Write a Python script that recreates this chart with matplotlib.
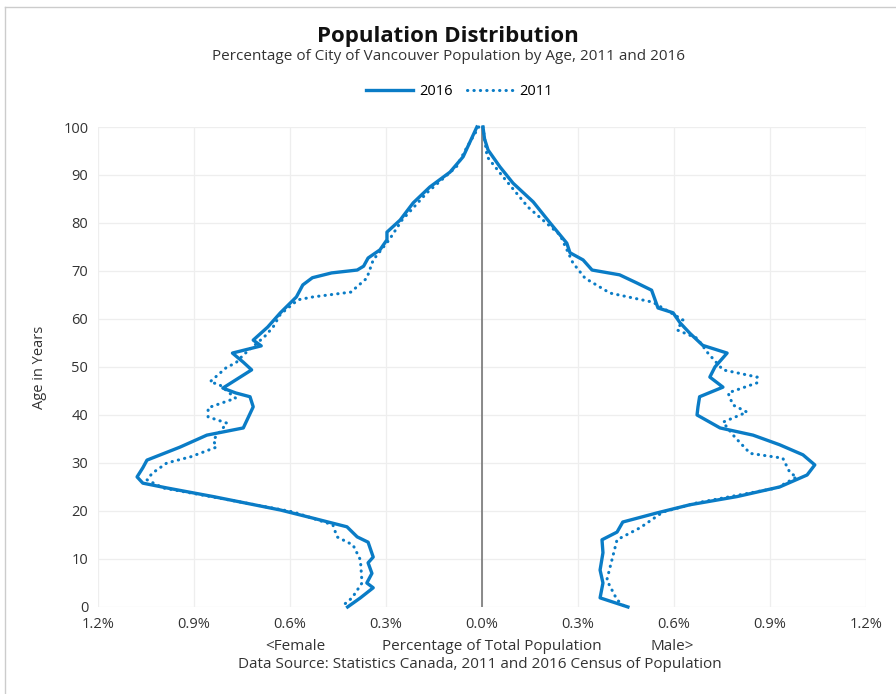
import matplotlib.pyplot as plt
import numpy as np
from matplotlib.lines import Line2D

plt.rcParams['font.family'] = ['Open Sans', 'DejaVu Sans']

BLUE = '#0a7cc6'
TXT = '#333333'

# female 2016 (percent), ages descending
female_2016_age = [100, 93.8, 90.6, 87.5, 84.2, 80.6, 78.1, 76.5, 74.4, 72.7, 71, 70.2, 69.6,
                   68.6, 67.1, 64.6, 61.3, 58.3, 55.6, 54.4, 52.9, 51, 49.4, 45.6, 44.6, 43.8,
                   41.7, 39, 37.3, 35.8, 33.3, 30.6, 29, 27.1, 25.8, 24.8, 23, 20.2, 18.5,
                   16.7, 14.6, 13.5, 10.4, 9.2, 7, 5, 4, 1.9, 0]
female_2016_pct = [0.016, 0.059, 0.10, 0.163, 0.215, 0.256, 0.297, 0.297, 0.319, 0.356, 0.37, 0.39, 0.47,
                   0.53, 0.56, 0.58, 0.63, 0.67, 0.715, 0.69, 0.78, 0.746, 0.72, 0.81, 0.77, 0.725,
                   0.715, 0.734, 0.746, 0.86, 0.944, 1.047, 1.06, 1.078, 1.06, 0.985, 0.84, 0.63, 0.528,
                   0.422, 0.39, 0.356, 0.34, 0.356, 0.344, 0.36, 0.34, 0.38, 0.42]

# female 2011
female_2011_age = [100, 95.8, 91.7, 86.3, 80.6, 76.5, 72.3, 68.5, 65.6, 64.6, 64, 61, 58.3,
                   56.3, 52.5, 50.8, 50, 46.9, 46.3, 43.5, 41.5, 39.6, 38.3, 34.8, 33.3,
                   31.3, 30, 27.9, 26.5, 24.8, 22.3, 19.8, 17.1, 14.6, 12.9, 9.8, 5, 1.9, 0]
female_2011_pct = [0.01, 0.047, 0.08, 0.172, 0.25, 0.29, 0.34, 0.36, 0.41, 0.528, 0.575, 0.63, 0.653,
                   0.68, 0.746, 0.77, 0.797, 0.85, 0.82, 0.77, 0.856, 0.856, 0.797, 0.84, 0.83,
                   0.91, 0.985, 1.03, 1.047, 0.997, 0.79, 0.59, 0.466, 0.453, 0.403, 0.38, 0.375, 0.406, 0.44]

# male 2016
male_2016_age = [100, 97.5, 95.2, 91.7, 88.3, 84.4, 80, 75.8, 73.8, 72.3, 70.2, 69.2, 67.5, 66,
                 62.3, 61.3, 59.2, 57, 54.5, 52.9, 50, 47.9, 45.8, 43.8, 41.7, 40, 37.3,
                 35.8, 33.8, 31.7, 29.6, 27.5, 25, 23, 21.3, 19.6, 17.7, 15.6, 14, 11.3,
                 7.7, 5, 1.9, 0]
male_2016_pct = [0.003, 0.008, 0.019, 0.056, 0.097, 0.16, 0.213, 0.265, 0.275, 0.316, 0.344, 0.43, 0.484, 0.53,
                 0.55, 0.597, 0.619, 0.65, 0.69, 0.766, 0.728, 0.712, 0.753, 0.68, 0.675, 0.672, 0.744,
                 0.847, 0.93, 1.003, 1.04, 1.016, 0.93, 0.797, 0.65, 0.547, 0.44, 0.422, 0.375, 0.378,
                 0.369, 0.378, 0.369, 0.456]

# male 2011
male_2011_age = [100, 93.8, 89.6, 83.3, 77.5, 71.7, 68.5, 65.4, 63.5, 59.8, 57.7, 56, 52.9,
                 49.4, 47.9, 46.7, 44.6, 42.1, 40.6, 38.5, 35.4, 32, 31, 27.9, 27.1, 24.8,
                 21.7, 19.8, 16.5, 14, 9.8, 5.6, 1.5, 0]
male_2011_pct = [0.003, 0.016, 0.066, 0.144, 0.244, 0.284, 0.322, 0.4, 0.534, 0.628, 0.61, 0.672, 0.706,
                 0.753, 0.86, 0.86, 0.769, 0.784, 0.828, 0.753, 0.79, 0.838, 0.94, 0.963, 0.984, 0.922,
                 0.672, 0.566, 0.494, 0.422, 0.406, 0.39, 0.422, 0.447]

x_ticks = [-1.2, -0.9, -0.6, -0.3, 0.0, 0.3, 0.6, 0.9, 1.2]
y_ticks = list(range(0, 101, 10))

DOT = (0, (0.1, 2.0))

fig = plt.figure(figsize=(8.96, 6.94), dpi=100)
ax = fig.add_axes([0.1094, 0.1254, 0.8571, 0.6916])

ax.plot(-np.array(female_2016_pct), female_2016_age, color=BLUE, lw=2.4, clip_on=False,
        solid_joinstyle='round')
ax.plot(np.array(male_2016_pct), male_2016_age, color=BLUE, lw=2.4, clip_on=False,
        solid_joinstyle='round')
ax.plot(-np.array(female_2011_pct), female_2011_age, color=BLUE, lw=2.2, ls=DOT,
        dash_capstyle='round', clip_on=False)
ax.plot(np.array(male_2011_pct), male_2011_age, color=BLUE, lw=2.2, ls=DOT,
        dash_capstyle='round', clip_on=False)

ax.axvline(0, color='#777777', lw=1.2, zorder=1)

ax.set_xlim(-1.2, 1.2)
ax.set_ylim(0, 100)
ax.set_xticks(x_ticks)
ax.set_xticklabels(['%.1f%%' % abs(t) for t in x_ticks])
ax.set_yticks(y_ticks)
ax.tick_params(length=0, labelsize=10.5, colors=TXT, pad=7)
ax.grid(color='#eeeeee', lw=0.9)
ax.set_axisbelow(True)
for s in ax.spines.values():
    s.set_visible(False)
ax.set_ylabel('Age in Years', fontsize=10.5, color=TXT, labelpad=12)

fig.text(0.5, 0.947, 'Population Distribution', ha='center', va='center',
         fontsize=16, fontweight='bold', color='#111111')
fig.text(0.5, 0.918, 'Percentage of City of Vancouver Population by Age, 2011 and 2016',
         ha='center', va='center', fontsize=11, color=TXT)

handles = [Line2D([], [], color=BLUE, lw=2.4),
           Line2D([], [], color=BLUE, lw=2.2, ls=DOT, dash_capstyle='round')]
fig.legend(handles, ['2016', '2011'], loc='center', bbox_to_anchor=(0.513, 0.868), ncol=2,
           frameon=False, fontsize=10.5, handlelength=3.2, columnspacing=1.0, handletextpad=0.4)

fig.text(0.33, 0.068, '<Female', ha='center', va='center', fontsize=11, color=TXT)
fig.text(0.549, 0.068, 'Percentage of Total Population', ha='center', va='center',
         fontsize=11, color=TXT)
fig.text(0.75, 0.068, 'Male>', ha='center', va='center', fontsize=11, color=TXT)
fig.text(0.535, 0.043, 'Data Source: Statistics Canada, 2011 and 2016 Census of Population',
         ha='center', va='center', fontsize=11, color=TXT)

# screenshot frame edges
fig.add_artist(Line2D([5 / 896, 5 / 896], [0, 1 - 7 / 694], color='#cccccc', lw=1))
fig.add_artist(Line2D([5 / 896, 1], [1 - 7 / 694, 1 - 7 / 694], color='#cccccc', lw=1))

fig.savefig('out.png', dpi=100)
